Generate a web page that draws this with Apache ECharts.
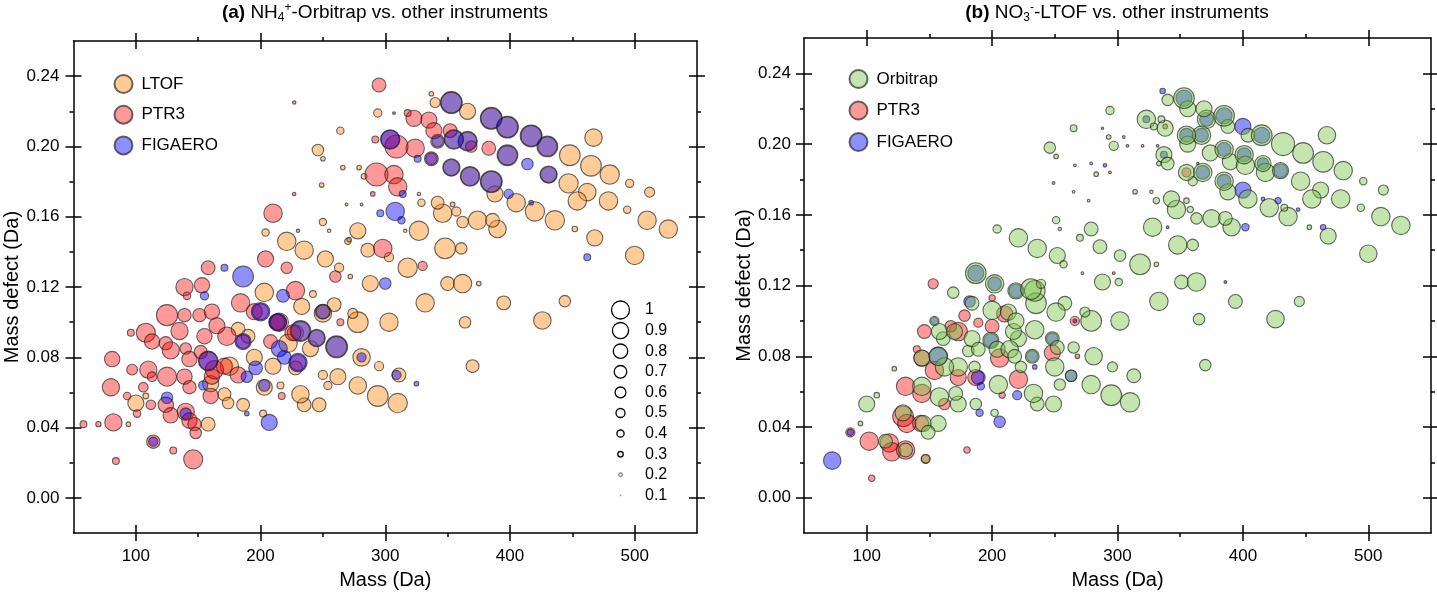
<!DOCTYPE html>
<html><head><meta charset="utf-8">
<script src="https://cdn.jsdelivr.net/npm/echarts@6/dist/echarts.min.js"></script>
<style>html,body{margin:0;padding:0;background:#fff}#c{width:1437px;height:595px}</style>
</head><body><div id="c"></div>
<script>
// ---- tick values ----
const xMajorTicks = [100, 200, 300, 400, 500];
const xMinorTicks = [150, 250, 350, 450];
const yMajorTicks = [0, 0.04, 0.08, 0.12, 0.16, 0.20, 0.24];
const yMinorTicks = [0.02, 0.06, 0.10, 0.14, 0.18, 0.22];
const sizeLegendValues = [1, 0.9, 0.8, 0.7, 0.6, 0.5, 0.4, 0.3, 0.2, 0.1];

// ---- panel (a): [mass, mass defect, relative size] ----
const ltofA = [
[340,0.225,.44],[294,0.219,.36],[264,0.209,.32],[246,0.198,.5],[250,0.193,.2],[366,0.220,.7],[467,0.205,.76],[448,0.195,.9],[465,0.189,.9],[480,0.184,.84],
[496,0.179,.36],[512,0.174,.44],[447,0.179,.84],[462,0.174,.76],[479,0.169,.8],[454,0.169,.8],[494,0.164,.32],[510,0.158,.8],[527,0.153,.8],[468,0.148,.7],
[452,0.153,.24],[500,0.138,.8],[420,0.163,.84],[436,0.158,.84],[405,0.168,.8],[388,0.173,.7],[390,0.153,.76],[374,0.158,.8],[362,0.157,.5],[386,0.158,.6],
[346,0.162,.8],[342,0.168,.56],[357,0.163,.4],[329,0.168,.32],[327,0.152,.84],[348,0.142,.9],[361,0.142,.5],[318,0.131,.84],[278,0.152,.7],[286,0.141,.6],
[303,0.137,.4],[270,0.146,.28],[221,0.146,.8],[235,0.141,.8],[252,0.136,.7],[263,0.131,.4],[204,0.151,.32],[250,0.157,.32],[288,0.122,.7],[350,0.122,.6],
[362,0.122,.8],[375,0.122,.2],[272,0.126,.2],[332,0.111,.8],[395,0.111,.6],[444,0.112,.5],[426,0.101,.76],[364,0.100,.5],[370,0.075,.56],[303,0.100,.8],
[278,0.100,.9],[274,0.105,.44],[278,0.064,.76],[294,0.058,.9],[310,0.054,.84],[295,0.075,.4],[311,0.070,.6],[281,0.080,.76],[262,0.069,.7],[247,0.053,.6],
[235,0.053,.6],[232,0.059,.76],[250,0.070,.4],[254,0.064,.36],[259,0.110,.6],[250,0.105,.76],[233,0.109,.7],[222,0.088,.8],[203,0.063,.7],[186,0.053,.56],
[171,0.059,.56],[174,0.054,.5],[158,0.042,.6],[182,0.096,.6],[100,0.054,.7],[203,0.117,.8],[242,0.116,.3],[216,0.064,.3],[202,0.048,.3],[94,0.042,.2],
[108,0.058,.25],[215,0.100,.8],[228,0.094,.7],[195,0.080,.7],[210,0.075,.7],[175,0.075,.8],[160,0.065,.7],[190,0.092,.6],[240,0.085,.7],[228,0.074,.6],
[266,0.188,.2],[279,0.188,.2],[283,0.183,.25],[249,0.178,.2],[269,0.167,.12],[281,0.167,.12],[327,0.173,.15],[255,0.152,.15],[271,0.147,.2],[316,0.152,.15],
[354,0.167,.2],[337,0.230,.2],
[353,0.225,.95],[385,0.216,.95],[398,0.211,.95],[417,0.206,.95],[430,0.200,.9],[366,0.203,.85],[355,0.204,.85],[398,0.195,.9],[353,0.188,.75],[368,0.183,.85],
[385,0.180,.95],[431,0.184,.75],[342,0.203,.6],[232,0.095,.9],[261,0.086,.95],[250,0.106,.65],[245,0.091,.75]
];
const ptr3A = [
[295,0.235,.6],[227,0.225,.15],[323,0.216,.7],[335,0.215,.7],[339,0.209,.7],[352,0.209,.6],[324,0.199,.8],[309,0.200,1.0],[337,0.193,.6],[383,0.199,.6],
[369,0.200,.5],[293,0.184,1.0],[307,0.184,.8],[310,0.177,.8],[210,0.162,.8],[298,0.142,.8],[330,0.132,.4],[204,0.136,.7],[221,0.131,.5],[260,0.126,.5],
[158,0.131,.6],[227,0.173,.15],[230,0.152,.15],[290,0.173,.2],[318,0.219,.3],[292,0.204,.3],
[139,0.120,.75],[153,0.121,.67],[141,0.115,.33],[125,0.104,.92],[139,0.104,.58],[151,0.104,.58],[135,0.095,.75],[108,0.094,.83],[113,0.089,.67],[124,0.088,.58],
[128,0.084,.75],[140,0.085,.5],[143,0.079,.67],[152,0.083,.58],[81,0.079,.67],[97,0.073,.47],[110,0.073,.75],[113,0.069,.42],[125,0.069,.83],[139,0.069,.67],
[143,0.063,.58],[80,0.063,.75],[106,0.063,.42],[93,0.058,.33],[112,0.053,.42],[124,0.053,.67],[128,0.047,.67],[140,0.049,.75],[143,0.044,.67],[147,0.042,.58],
[148,0.037,.5],[101,0.048,.33],[82,0.043,.75],[58,0.042,.3],[70,0.042,.23],[114,0.032,.58],[130,0.027,.3],[146,0.022,.83],[84,0.021,.3],[96,0.094,.3],
[160,0.058,.67],[161,0.069,.67],[155,0.092,.67],[161,0.106,.67],
[228,0.118,.8],[184,0.111,.8],[195,0.106,.7],[213,0.100,.7],[173,0.092,.8],[165,0.098,.7],[208,0.089,.6],[217,0.058,.3],[264,0.100,.3],[163,0.073,.8],
[171,0.075,.7],[182,0.070,.7],[226,0.094,.7],
[304,0.204,.8],[214,0.100,.7],[200,0.106,.7],[186,0.089,.6],[158,0.078,.85],[230,0.077,.7]
];
const figaeroA = [
[353,0.225,.9],[385,0.216,.9],[398,0.211,.9],[417,0.206,.9],[430,0.200,.84],[304,0.204,.84],[366,0.203,.8],[355,0.204,.8],[342,0.203,.5],[398,0.195,.84],
[353,0.188,.7],[368,0.183,.8],[385,0.180,.9],[431,0.184,.7],[399,0.173,.4],[337,0.193,.5],[308,0.163,.8],[296,0.162,.3],[313,0.158,.32],[462,0.137,.3],
[417,0.168,.2],[186,0.126,.9],[171,0.131,.3],[300,0.122,.5],[307,0.219,.12],[326,0.193,.3],[414,0.190,.5],[314,0.173,.3],
[200,0.106,.8],[214,0.100,.76],[232,0.095,.84],[250,0.106,.6],[245,0.091,.7],[261,0.086,.9],[186,0.089,.7],[215,0.085,.7],[230,0.077,.8],[158,0.078,.8],
[189,0.069,.5],[196,0.074,.6],[203,0.064,.5],[125,0.057,.5],[140,0.048,.5],[207,0.043,.7],[114,0.032,.4],[309,0.070,.4],[325,0.065,.2],[281,0.080,.4],
[155,0.115,.36],[218,0.115,.56],[154,0.064,.4],[189,0.048,.2],[219,0.080,.6]
];

// ---- panel (b) ----
const orbitrapB = [
[340,0.225,.5],[294,0.219,.36],[265,0.209,.3],[246,0.198,.5],[251,0.193,.2],[297,0.199,.4],[323,0.214,.8],[338,0.209,.7],[356,0.220,.7],[371,0.214,.8],
[388,0.210,.6],[404,0.205,.6],[467,0.205,.76],[432,0.200,1.0],[448,0.195,.9],[464,0.190,.9],[480,0.185,.8],[496,0.179,.32],[512,0.174,.44],[356,0.200,.7],
[374,0.195,.7],[390,0.190,.7],[402,0.188,.8],[418,0.184,.8],[446,0.179,.8],[462,0.174,.7],[478,0.169,.8],[455,0.169,.8],[494,0.164,.32],[510,0.159,.8],
[526,0.154,.8],[468,0.148,.7],[453,0.153,.2],[500,0.138,.76],[404,0.169,.8],[421,0.164,.8],[436,0.159,.8],[433,0.164,.3],[388,0.173,.7],[360,0.179,.4],
[391,0.153,.76],[375,0.158,.76],[363,0.158,.5],[386,0.158,.6],[347,0.163,.8],[343,0.169,.7],[331,0.168,.28],[355,0.168,.24],[358,0.163,.28],[328,0.153,.8],
[348,0.143,.8],[360,0.143,.5],[318,0.132,.9],[302,0.137,.5],[286,0.142,.6],[279,0.152,.6],[270,0.147,.3],[221,0.147,.8],[236,0.141,.8],[252,0.137,.7],
[257,0.132,.32],[204,0.152,.36],[251,0.157,.32],[288,0.122,.7],[301,0.122,.32],[351,0.122,.6],[363,0.122,.8],[337,0.194,.7],[340,0.189,.56],[355,0.184,.7],
[368,0.184,.8],[385,0.179,.8],[367,0.205,.8],[355,0.205,.8],[401,0.194,.8],[430,0.185,.7],[416,0.189,.7],[353,0.226,.9],[369,0.220,.7],[385,0.216,.9],
[415,0.205,.9],[385,0.197,.8],[329,0.210,.3],
[333,0.111,.8],[394,0.111,.6],[445,0.111,.44],[426,0.101,.76],[365,0.101,.5],[370,0.075,.5],[302,0.100,.8],[279,0.100,.9],[274,0.105,.44],[279,0.064,.8],
[295,0.058,.9],[310,0.054,.84],[296,0.074,.44],[313,0.069,.6],[281,0.080,.76],[265,0.085,.5],[250,0.074,.8],[254,0.064,.5],[249,0.053,.7],[236,0.053,.6],
[233,0.059,.8],[223,0.074,.5],[258,0.110,.6],[251,0.105,.8],[235,0.110,.9],[234,0.095,.8],[221,0.090,.7],[217,0.094,.7],[205,0.064,.8],[202,0.048,.32],
[187,0.053,.5],[173,0.053,.7],[171,0.059,.6],[157,0.042,.7],[100,0.053,.7],[108,0.058,.24],[95,0.042,.2],[122,0.073,.2],[186,0.074,.5],[161,0.090,.6],
[181,0.083,.5],[173,0.074,.8],[234,0.117,.9],
[158,0.094,.7],[170,0.094,.7],[184,0.090,.7],[189,0.084,.6],[144,0.079,.7],[162,0.074,.8],[144,0.063,.8],[158,0.057,.8],[129,0.048,.7],[145,0.042,.7],
[115,0.032,.6],[131,0.027,.6],[147,0.022,.36],[149,0.037,.6],[200,0.106,.8],[213,0.105,.7],[219,0.100,.7],[199,0.089,.7],[204,0.084,.7],[214,0.084,.76],
[218,0.080,.6],[232,0.080,.6],[248,0.090,.6],[252,0.085,.6],[263,0.069,.5],[187,0.127,.9],[202,0.121,.8],[219,0.117,.7],[231,0.118,.9],[239,0.121,.4],
[169,0.116,.5],[184,0.110,.6],[154,0.100,.4],[157,0.080,.8],
[266,0.188,.12],[279,0.189,.12],[283,0.183,.2],[293,0.204,.2],[305,0.204,.12],[249,0.178,.12],[265,0.173,.12],[277,0.168,.12],[314,0.173,.2],[327,0.173,.15],
[254,0.152,.15],[272,0.127,.12],[331,0.132,.2],[335,0.214,.3],[333,0.189,.2]
];
const ptr3B = [
[146,0.094,.6],[173,0.094,.8],[200,0.097,.6],[144,0.079,.7],[131,0.063,.8],[144,0.059,.8],[162,0.053,.5],[129,0.046,.9],[132,0.042,.8],[143,0.042,.7],
[118,0.031,.8],[102,0.032,.8],[120,0.026,.8],[131,0.027,.8],[147,0.022,.4],[87,0.037,.4],[104,0.011,.28],[180,0.027,.28],[221,0.067,.8],[248,0.082,.7],
[206,0.079,.8],[266,0.100,.4],[200,0.113,.28],[208,0.058,.28],[268,0.080,.2],[189,0.099,.4],[140,0.084,.3],[154,0.072,.8],[173,0.068,.7],[187,0.068,.7],
[167,0.097,.5],[178,0.103,.5],[210,0.104,.7],[153,0.121,.44],[308,0.199,.12],[320,0.199,.12],[332,0.199,.12],[288,0.209,.1],[338,0.210,.2],[355,0.184,.4],
[364,0.189,.1],[297,0.127,.12],[294,0.184,.12]
];
const figaeroB = [
[336,0.230,.24],[400,0.210,.7],[400,0.174,.7],[428,0.168,.28],[402,0.153,.32],[464,0.153,.24],[290,0.188,.16],[444,0.163,.16],[416,0.169,.16],[340,0.153,.12],
[386,0.122,.12],[353,0.226,.7],[371,0.214,.6],[385,0.216,.7],[415,0.205,.7],[401,0.194,.6],[355,0.205,.6],[367,0.205,.6],[385,0.197,.6],[416,0.189,.5],
[430,0.185,.6],[323,0.214,.3],[337,0.194,.3],[368,0.184,.6],[385,0.179,.6],
[72.5,0.021,.76],[206,0.043,.5],[220,0.058,.4],[191,0.063,.32],[190,0.048,.32],[154,0.100,.32],[234,0.074,.2],[266,0.100,.16],[87,0.037,.28],
[182,0.111,.5],[199,0.089,.6],[157,0.080,.8],[189,0.068,.6],[232,0.080,.5],[263,0.069,.5],[248,0.090,.5],[187,0.127,.7],[202,0.121,.6],[219,0.117,.6]
];

// ---- styling ----
const FONT = "'Liberation Sans', Arial, sans-serif";
const COL = {
  ltof: 'rgba(255,140,20,0.55)',
  ptr3: 'rgba(255,0,0,0.5)',
  fig: 'rgba(0,0,255,0.55)',
  orb: 'rgba(120,195,70,0.55)'
};
const BORDER = 'rgba(35,35,35,0.85)';
const LINE = {color:'#000', width:1.5};
const SIZE_SCALE = 23;

const grids = [
  {left:73.5, top:41, width:623.5, height:498},
  {left:804, top:38, width:627, height:499}
];

function xAxesFor(g, nameGap){
  const b = {gridIndex:g, type:'value', min:50, max:550, splitLine:{show:false}, axisLabel:{show:false}};
  const out = [];
  ['bottom','top'].forEach(pos=>{
    const main = pos==='bottom';
    out.push(Object.assign({}, b, {
      position:pos,
      name: main ? 'Mass (Da)' : '',
      nameLocation:'middle', nameGap:nameGap,
      nameTextStyle:{fontSize:20, color:'#000', fontFamily:FONT},
      axisLine:{show:true, onZero:false, lineStyle:LINE},
      axisTick:{show:true, inside:false, length:8, customValues:xMajorTicks, lineStyle:LINE},
      axisLabel: main ? {show:true, customValues:xMajorTicks, margin:15, fontSize:17, color:'#000', fontFamily:FONT} : {show:false}
    }));
    out.push(Object.assign({}, b, {position:pos, axisLine:{show:false, onZero:false},
      axisTick:{show:true, inside:true, length:8, customValues:xMajorTicks, lineStyle:LINE}}));
    out.push(Object.assign({}, b, {position:pos, axisLine:{show:false, onZero:false},
      axisTick:{show:true, inside:false, length:4, customValues:xMinorTicks, lineStyle:LINE}}));
  });
  return out;
}
function yAxesFor(g, nameGap, margin){
  const b = {gridIndex:g, type:'value', min:-0.02, max:0.26, splitLine:{show:false}, axisLabel:{show:false}};
  const out = [];
  ['left','right'].forEach(pos=>{
    const main = pos==='left';
    out.push(Object.assign({}, b, {
      position:pos,
      name: main ? 'Mass defect (Da)' : '',
      nameLocation:'middle', nameGap:nameGap,
      nameTextStyle:{fontSize:20, color:'#000', fontFamily:FONT},
      axisLine:{show:true, onZero:false, lineStyle:LINE},
      axisTick:{show:true, inside:false, length:8, customValues:yMajorTicks, lineStyle:LINE},
      axisLabel: main ? {show:true, customValues:yMajorTicks, margin:margin, fontSize:17, color:'#000', fontFamily:FONT,
        formatter:v=>Number(v).toFixed(2)} : {show:false}
    }));
    out.push(Object.assign({}, b, {position:pos, axisLine:{show:false, onZero:false},
      axisTick:{show:true, inside:true, length:8, customValues:yMajorTicks, lineStyle:LINE}}));
    out.push(Object.assign({}, b, {position:pos, axisLine:{show:false, onZero:false},
      axisTick:{show:true, inside:false, length:4, customValues:yMinorTicks, lineStyle:LINE}}));
  });
  return out;
}

function sc(name, data, color, axisIdx){
  return {
    type:'scatter', name:name, data:data,
    xAxisIndex:axisIdx, yAxisIndex:axisIdx,
    symbolSize: d => d[2]*SIZE_SCALE,
    itemStyle:{color:color, borderColor:BORDER, borderWidth:1.1},
    emphasis:{disabled:true}, animation:false
  };
}

const titleRich = {
  b:{fontWeight:'bold', fontSize:19, color:'#000', fontFamily:FONT},
  sub:{fontSize:12, color:'#000', fontFamily:FONT, padding:[10,0,0,0]},
  sup:{fontSize:12, color:'#000', fontFamily:FONT, padding:[0,0,10,0]}
};

const graphic = [];
sizeLegendValues.forEach((v,i)=>{
  const cy = 310 + i*20.6;
  graphic.push({type:'circle', shape:{cx:620.5, cy:cy, r:Math.max(v*9,0.8)},
    style:{fill: v<=0.1 ? '#999' : '#fff', stroke: v<=0.2 ? '#888' : '#000', lineWidth: v<=0.1 ? 0 : 1.3}, z:10});
  graphic.push({type:'text', x:645, y:cy, style:{text:String(v), fontSize:16, fontFamily:FONT, fill:'#000', verticalAlign:'middle', align:'left'}, z:10});
});

const option = {
  backgroundColor:'#fff',
  animation:false,
  title:[
    {text:'{b|(a)} NH{sub|4}{sup|+}-Orbitrap vs. other instruments', left:385, top:2, padding:0, textAlign:'center',
     textStyle:{fontSize:19, fontWeight:'normal', color:'#000', fontFamily:FONT, rich:titleRich}},
    {text:'{b|(b)} NO{sub|3}{sup|-}-LTOF vs. other instruments', left:1117, top:2, padding:0, textAlign:'center',
     textStyle:{fontSize:19, fontWeight:'normal', color:'#000', fontFamily:FONT, rich:titleRich}}
  ],
  legend:[
    {data:['LTOF','PTR3','FIGAERO'], orient:'vertical', left:113.5, top:74, padding:0, itemWidth:18, itemHeight:18, itemGap:10.7,
     icon:'circle', selectedMode:false, textStyle:{fontSize:17, color:'#000', fontFamily:FONT, padding:[0,0,0,4]}},
    {data:['Orbitrap','PTR3','FIGAERO'], orient:'vertical', left:848.5, top:69, padding:0, itemWidth:18, itemHeight:18, itemGap:11.5,
     icon:'circle', selectedMode:false, textStyle:{fontSize:17, color:'#000', fontFamily:FONT, padding:[0,0,0,4]}}
  ],
  grid:grids,
  xAxis: xAxesFor(0, 32).concat(xAxesFor(1, 34)),
  yAxis: yAxesFor(0, 50, 14).concat(yAxesFor(1, 48, 13)),
  series:[
    sc('LTOF', ltofA, COL.ltof, 0),
    sc('PTR3', ptr3A, COL.ptr3, 0),
    sc('FIGAERO', figaeroA, COL.fig, 0),
    sc('PTR3', ptr3B, COL.ptr3, 6),
    sc('FIGAERO', figaeroB, COL.fig, 6),
    sc('Orbitrap', orbitrapB, COL.orb, 6)
  ],
  graphic:graphic
};
const chart = echarts.init(document.getElementById('c'), null, {renderer:'canvas'});
chart.setOption(option);
</script>
</body></html>
